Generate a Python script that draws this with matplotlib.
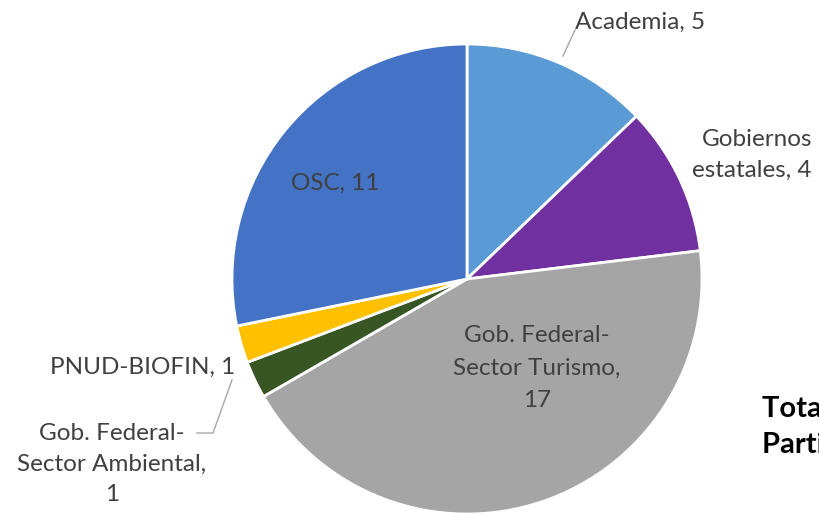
import matplotlib
matplotlib.use("Agg")
import matplotlib.pyplot as plt

labels = ["Academia", "Gobiernos\nestatales", "Gob. Federal-\nSector Turismo,\n", "Gob. Federal-\nSector Ambiental,\n", "PNUD-BIOFIN", "OSC"]
values = [5, 4, 17, 1, 1, 11]
colors = ["#5B9BD5", "#7030A0", "#A5A5A5", "#375623", "#FFC000", "#4472C4"]

W, H = 819, 513
plt.rcParams["font.family"] = ["Lato", "DejaVu Sans"]
fig = plt.figure(figsize=(W / 100, H / 100), dpi=100)
ax = fig.add_axes([0, 0, 1, 1])

cx, cy, r = 467, H - 279, 235
ax.pie(values, colors=colors, startangle=90, counterclock=False,
       center=(cx, cy), radius=r,
       wedgeprops=dict(edgecolor="white", linewidth=2))
ax.set_xlim(0, W)
ax.set_ylim(0, H)
ax.set_aspect("equal")
ax.axis("off")

tc = "#404040"
fs = 17.5

def lab(i):
    if labels[i].endswith("\n"):
        return f"{labels[i]}{values[i]}"
    return f"{labels[i]}, {values[i]}"

# Academia
ax.text(575, H - 22, lab(0), fontsize=fs, color=tc, ha="left", va="center")
ax.plot([575, 563], [H - 30, H - 56], color="#A6A6A6", lw=1)
# Gobiernos estatales
ax.text(812, H - 155, lab(1), fontsize=fs, color=tc, ha="right", va="center",
        multialignment="right", linespacing=1.62)
# OSC
ax.text(335, H - 183, lab(5), fontsize=fs, color=tc, ha="center", va="center")
# Turismo
ax.text(537, H - 368, lab(2), fontsize=fs, color=tc, ha="center", va="center",
        linespacing=1.7)
# PNUD-BIOFIN
ax.text(143, H - 367, lab(4), fontsize=fs, color=tc, ha="center", va="center")
# Ambiental
ax.text(112, H - 464, lab(3), fontsize=fs, color=tc, ha="center", va="center",
        linespacing=1.55)
ax.plot([197, 213, 232], [H - 433, H - 433, H - 380], color="#A6A6A6", lw=1)

# Total box text (clipped by figure edge, as in the reference)
ax.text(762, H - 427, "Total de\nParticipantes: 39", fontsize=21, color="black",
        fontweight="bold", ha="left", va="center", linespacing=1.45)

fig.savefig("out.png", dpi=100)
